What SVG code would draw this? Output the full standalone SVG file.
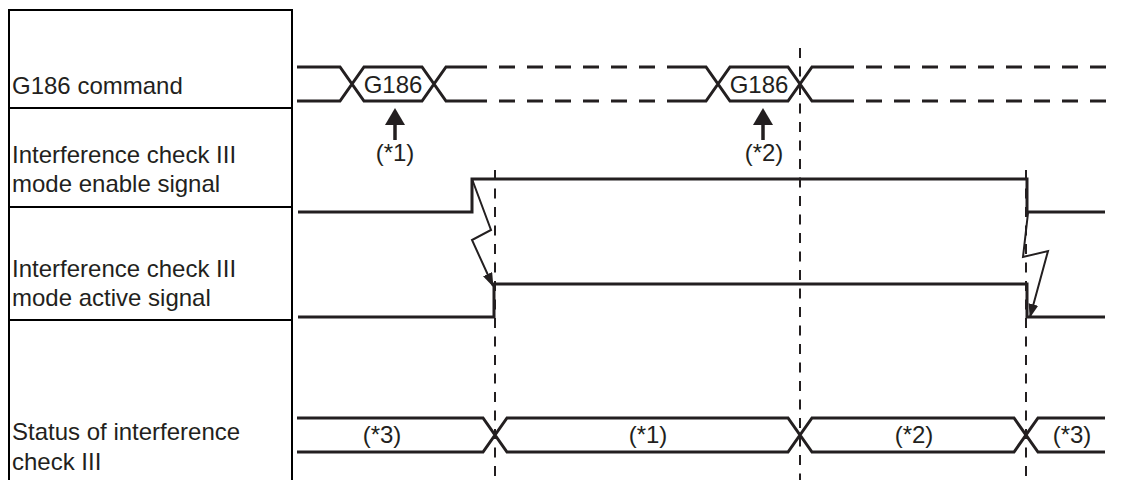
<svg xmlns="http://www.w3.org/2000/svg" width="1147" height="480" viewBox="0 0 1147 480">
<style>
.t{font-family:"Liberation Sans",Arial,sans-serif;font-size:24px;fill:#231f20}
.tc{font-family:"Liberation Sans",Arial,sans-serif;font-size:24px;fill:#231f20;text-anchor:middle}
.grid{stroke:#000;stroke-width:2;fill:none}
.sig{stroke:#231f20;stroke-width:3;fill:none;stroke-linejoin:miter}
.dsig{stroke:#231f20;stroke-width:3;fill:none;stroke-dasharray:16 12}
.vd{stroke:#231f20;stroke-width:2;fill:none;stroke-dasharray:10 8.5}
.bolt{stroke:#231f20;stroke-width:2;fill:none}
</style>
<defs>
<marker id="ah" viewBox="0 0 14 10" refX="13" refY="5" markerWidth="7" markerHeight="5" orient="auto" markerUnits="strokeWidth">
<path d="M0,0 L14,5 L0,10 z" fill="#231f20"/>
</marker>
</defs>
<rect width="1147" height="480" fill="#fff"/>
<g id="table">
<path class="grid" d="M9,480 V10 H292 V480 M9,108 H292 M9,207 H292 M9,320 H292"/>
</g>
<g id="row-g186">
<text class="t" x="12" y="94">G186 command</text>
<path class="sig" d="M297,67 H340 L364,101 H422 L446,67 H487 M297,101 H340 L364,67 H422 L446,101 H487"/>
<path class="dsig" d="M499,67 H683 M499,101 H683"/>
<path class="sig" d="M683,67 H706 L730,101 H788 L812,67 H854 M683,101 H706 L730,67 H788 L812,101 H854"/>
<path class="dsig" d="M866,67 H1106 M866,101 H1106"/>
<text class="tc" x="393" y="93">G186</text>
<text class="tc" x="759" y="93">G186</text>
<text class="tc" x="395" y="161">(*1)</text>
<text class="tc" x="764" y="161">(*2)</text>
</g>
<g id="row-enable">
<text class="t" x="12" y="163">Interference check III</text>
<text class="t" x="12" y="192">mode enable signal</text>
<path class="sig" d="M298,212 H472 V179 H1027 V212 H1105"/>
</g>
<g id="row-active">
<text class="t" x="12" y="277">Interference check III</text>
<text class="t" x="12" y="306">mode active signal</text>
<path class="sig" d="M298,317 H494 V284 H1027 V317 H1105"/>
</g>
<g id="row-status">
<text class="t" x="12" y="440">Status of interference</text>
<text class="t" x="12" y="470">check III</text>
<path class="sig" d="M297,418 H483 L507,452 H788 L812,418 H1014 L1038,452 H1105 M297,452 H483 L507,418 H788 L812,452 H1014 L1038,418 H1105"/>
<text class="tc" x="382" y="443">(*3)</text>
<text class="tc" x="648" y="443">(*1)</text>
<text class="tc" x="914" y="443">(*2)</text>
<text class="tc" x="1072" y="443">(*3)</text>
</g>
<g id="timing-lines">
<path class="vd" d="M495,170 V480 M800,48 V480 M1026,170 V480"/>
</g>
<g id="connectors">
<path d="M395,140 V122" stroke="#231f20" stroke-width="3.5"/>
<path d="M385,125 L395,108 L405,125 z" fill="#231f20"/>
<path d="M763,140 V122" stroke="#231f20" stroke-width="3.5"/>
<path d="M753,125 L763,108 L773,125 z" fill="#231f20"/>
<path class="bolt" d="M472,179 L491,230 L472,240 L493,286" marker-end="url(#ah)"/>
<path class="bolt" d="M1028,213 L1023,257 L1048,251 L1030,317" marker-end="url(#ah)"/>
</g>
</svg>
